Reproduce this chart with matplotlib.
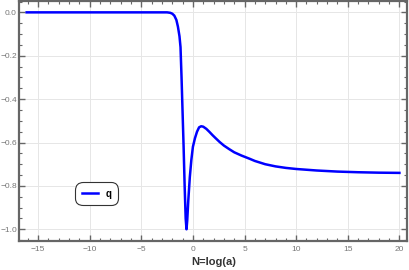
import matplotlib
matplotlib.use("Agg")
import matplotlib.pyplot as plt
from matplotlib.ticker import MultipleLocator

plt.rcParams['font.family'] = ['Liberation Sans', 'DejaVu Sans']

# values
N = [-16.1, -10.0, -5.0, -3.0, -2.5, -2.2, -2.0, -1.8, -1.6, -1.45, -1.3, -1.2,
     -1.1, -1.0, -0.9, -0.8, -0.7, -0.62, -0.55, -0.45, -0.3, -0.15, 0.0, 0.2,
     0.4, 0.6, 0.8, 1.0, 1.3, 1.6, 1.9, 2.2, 2.6, 3.0, 3.5, 4.0, 4.7, 5.5, 6.0, 7.0,
     8.0, 9.0, 10.0, 12.0, 14.0, 16.0, 18.0, 20.0]
q = [0.0, 0.0, 0.0, 0.0, 0.0, -0.002, -0.006, -0.015, -0.035, -0.066, -0.11, -0.16,
     -0.30, -0.46, -0.62, -0.80, -0.95, -1.0, -0.96, -0.87, -0.76, -0.68, -0.62, -0.58,
     -0.55, -0.53, -0.525, -0.527, -0.537, -0.551, -0.566, -0.58, -0.598, -0.614, -0.63,
     -0.645, -0.66, -0.675, -0.685, -0.70, -0.71, -0.717, -0.722, -0.729, -0.734, -0.737,
     -0.739, -0.74]

fig = plt.figure(figsize=(4.09, 2.70), dpi=100)
ax = fig.add_axes([0.0465, 0.1074, 0.9495, 0.8886])

ax.plot(N, q, color="#0000ff", lw=1.8, label="q")

ax.set_xlim(-16.84, 20.77)
ax.set_ylim(-1.054, 0.052)
ax.xaxis.set_major_locator(MultipleLocator(5))
ax.xaxis.set_minor_locator(MultipleLocator(1))
ax.yaxis.set_major_locator(MultipleLocator(0.2))
ax.yaxis.set_minor_locator(MultipleLocator(0.05))

ax.grid(True, which="major", color="#e6e6e6", lw=0.7)
ax.set_axisbelow(True)

for s in ax.spines.values():
    s.set_color("#666666")
    s.set_linewidth(1.6)

ax.tick_params(which="both", direction="in", top=True, right=True,
               colors="#666666", labelcolor="#777777", labelsize=6)
ax.tick_params(which="major", length=4, width=1)
ax.tick_params(which="minor", length=2, width=0.8)
ax.tick_params(axis="y", pad=1.5)
ax.set_yticks([0.0, -0.2, -0.4, -0.6, -0.8, -1.0])
ax.set_yticklabels(["0.0", "\u22120.2", "\u22120.4", "\u22120.6", "\u22120.8", "\u22121.0"])

ax.set_xlabel("N=log(a)", fontsize=8, fontweight="bold", color="#333333", labelpad=3)

leg = ax.legend(loc="center", bbox_to_anchor=(0.237, 0.283),
                bbox_transform=fig.transFigure, fancybox=True, framealpha=1,
                edgecolor="#333333", handlelength=1.6, borderpad=0.5,
                prop={"size": 7, "weight": "bold"})
leg.get_frame().set_linewidth(0.8)
leg.get_frame().set_boxstyle("round", pad=0.2, rounding_size=0.8)

fig.savefig("out.png", dpi=100)
